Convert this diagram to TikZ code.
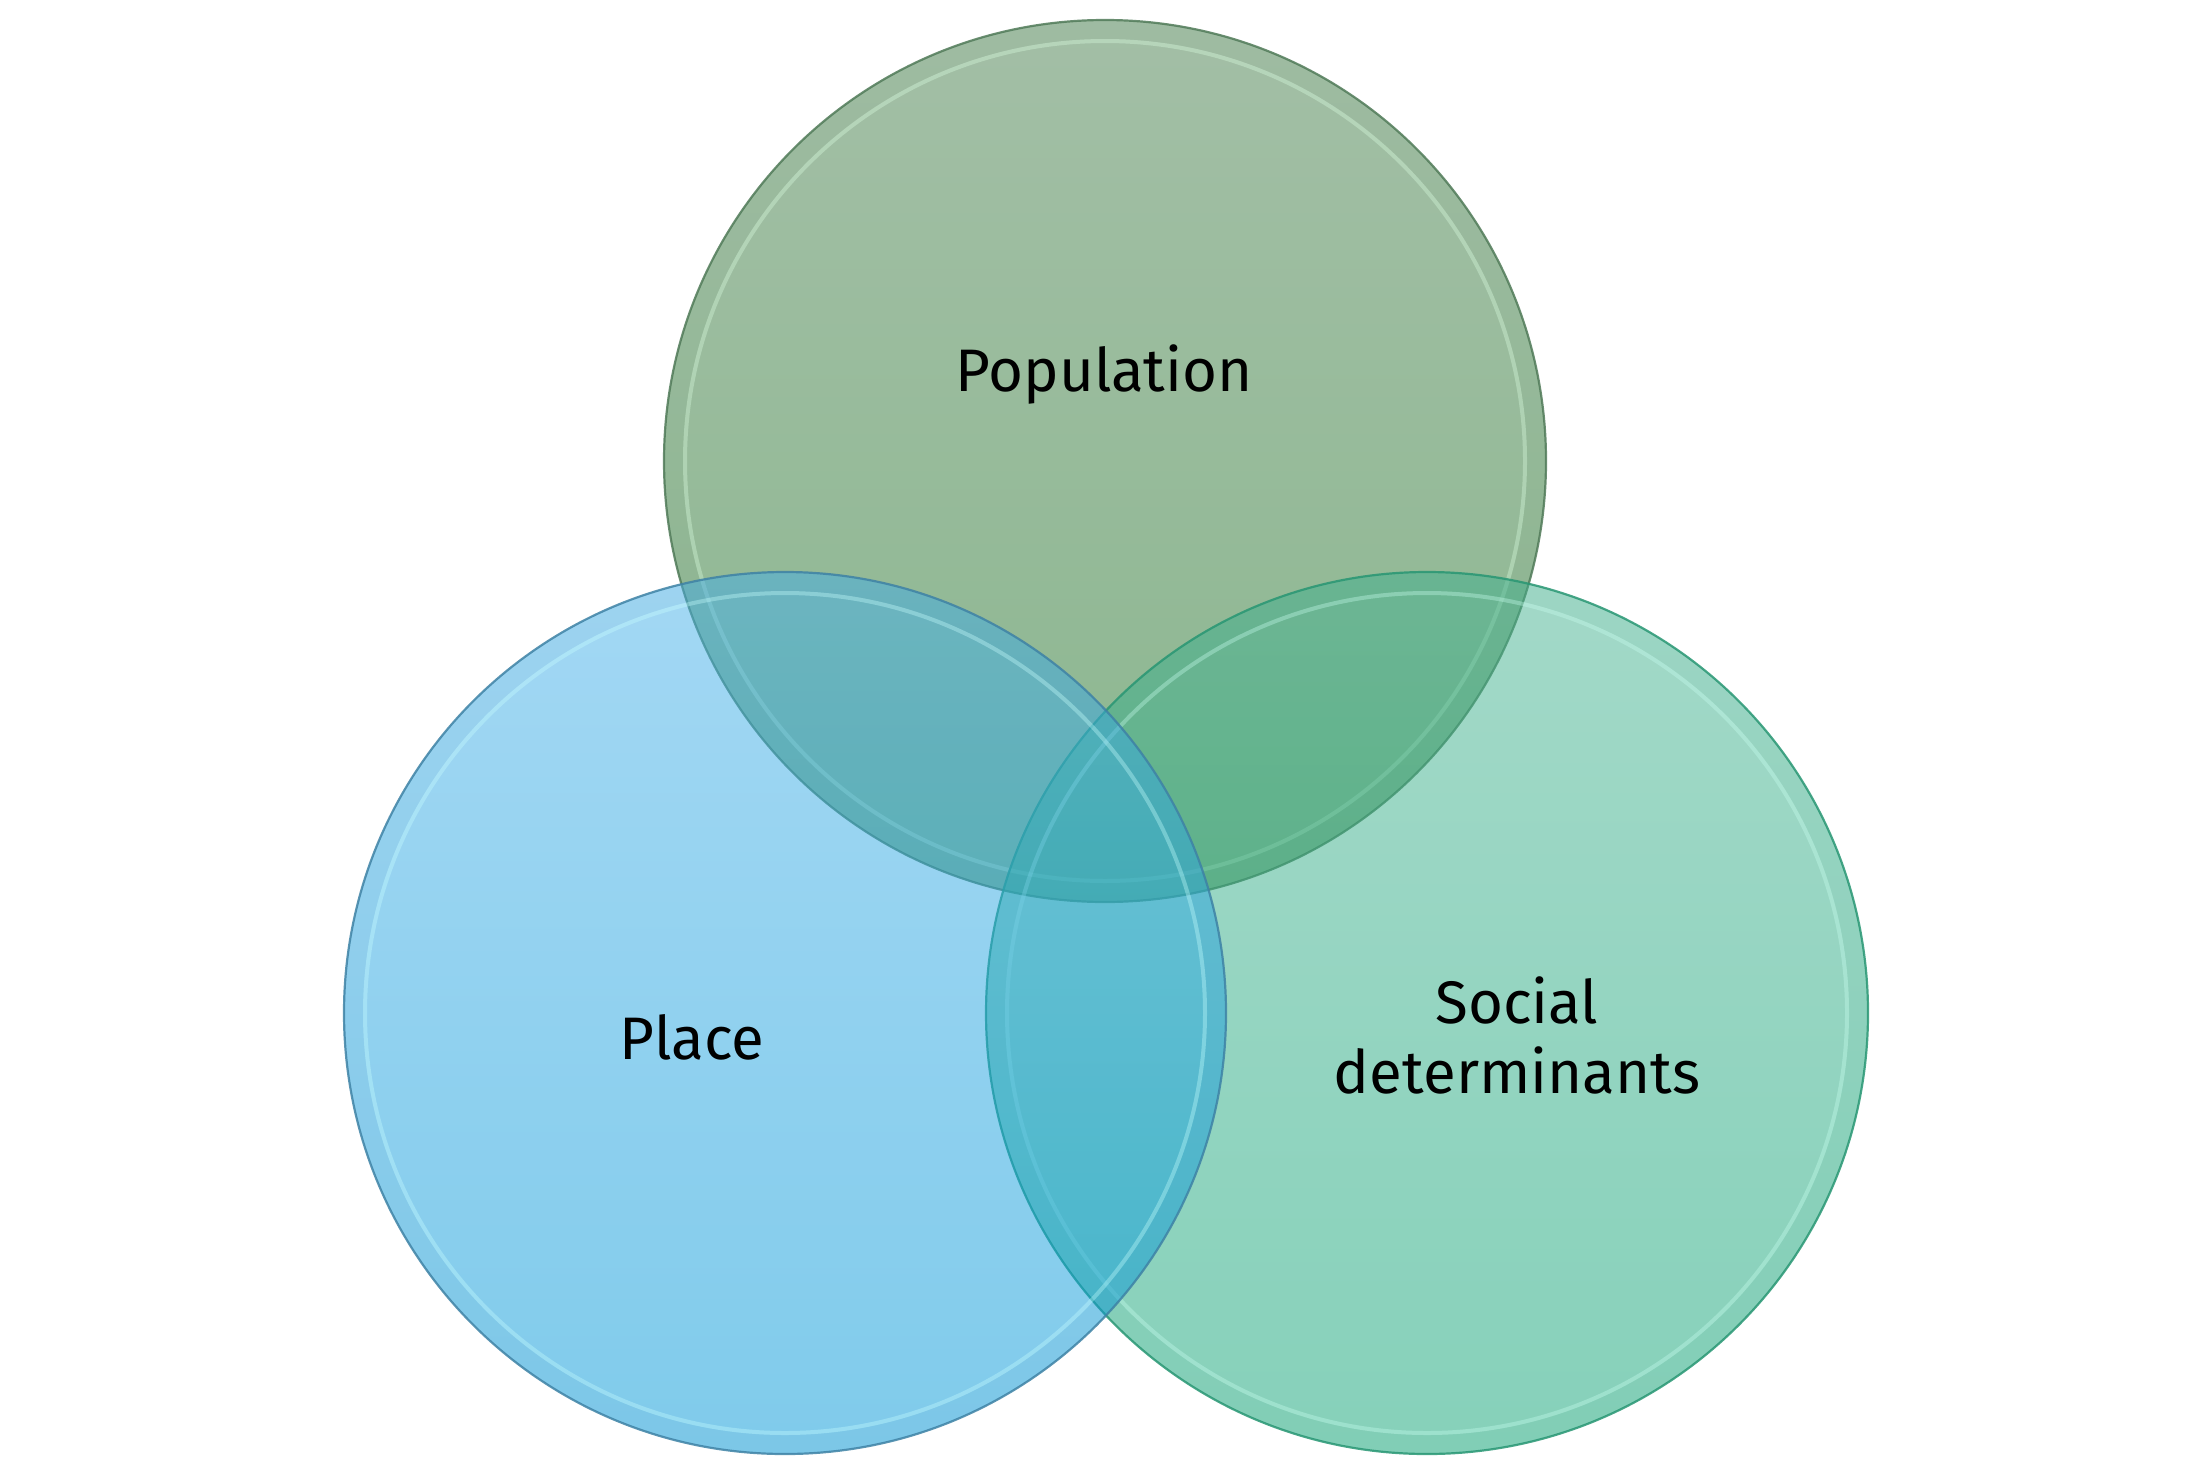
\documentclass[tikz,border=0pt]{standalone}
\usepackage{fontspec}
\setmainfont{Fira Sans}
\definecolor{gTop}{RGB}{71,127,77}
\definecolor{gBot}{RGB}{23,111,31}
\definecolor{bTop}{RGB}{71,177,233}
\definecolor{bBot}{RGB}{0,151,215}
\definecolor{tTop}{RGB}{71,179,145}
\definecolor{tBot}{RGB}{13,163,117}
\definecolor{gLine}{RGB}{80,122,88}
\definecolor{bLine}{RGB}{62,130,165}
\definecolor{tLine}{RGB}{40,150,115}
\definecolor{gHi}{RGB}{220,255,226}
\definecolor{bHi}{RGB}{200,255,255}
\definecolor{tHi}{RGB}{200,255,240}
\tikzset{
  venntext/.style={font=\fontsize{30}{35}\selectfont, text=black, inner sep=0pt, anchor=base, align=center},
  hiring/.style={line width=2pt, draw opacity=0.35},
  bandring/.style={line width=9pt, draw opacity=0.05},
  rimline/.style={line width=1.1pt, draw opacity=0.85}
}
\newcommand{\vennset}[5]{%
  \shade[top color=#2, bottom color=#3, fill opacity=0.5] (#1) circle[radius=441];
  \draw[bandring, draw=#4] (#1) circle[radius=431];
  \draw[hiring, draw=#5] (#1) circle[radius=420];
  \draw[rimline, draw=#4] (#1) circle[radius=441];
}
\begin{document}
\begin{tikzpicture}[x=0.5pt, y=-0.5pt]
\useasboundingbox (0,0) rectangle (2209,1472);
\coordinate (cpop) at (1105,461);
\coordinate (cplace) at (785,1013);
\coordinate (csoc) at (1427,1013);
\vennset{cpop}{gTop}{gBot}{gLine}{gHi}
\vennset{csoc}{tTop}{tBot}{tLine}{tHi}
\vennset{cplace}{bTop}{bBot}{bLine}{bHi}
\node[venntext] (tpop) at (1104,391) {Population};
\node[venntext] (tplace) at (692,1059) {Place};
\node[venntext] (tsoc) at (1517,1093) {Social\\determinants};
\end{tikzpicture}
\end{document}
